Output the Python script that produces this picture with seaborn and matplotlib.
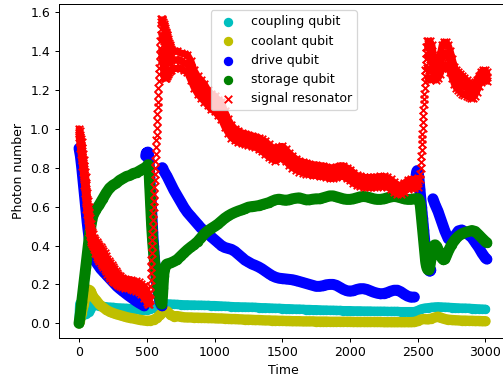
import numpy as np
import matplotlib
matplotlib.use("Agg")
import matplotlib.pyplot as plt
import seaborn as sns

# ---------------- coupling qubit ----------------
coupling_t = np.r_[0:100:5, 100:3001:25]
coupling_n = [
    0.02, 0.10, 0.04, 0.11, 0.04, 0.11, 0.05, 0.11, 0.05, 0.10,
    0.05, 0.10, 0.06, 0.10, 0.06, 0.10, 0.07, 0.10, 0.08, 0.095,
    0.095, 0.092, 0.09, 0.087, 0.085, 0.083, 0.082, 0.08,
    0.079, 0.078, 0.077, 0.076, 0.075, 0.073, 0.071, 0.07,
    0.069, 0.072, 0.08, 0.092, 0.10, 0.10, 0.10, 0.099,
    0.098, 0.097, 0.096, 0.095, 0.095, 0.094, 0.094, 0.093,
    0.093, 0.092, 0.092, 0.091, 0.091, 0.09, 0.089, 0.088,
    0.087, 0.086, 0.085, 0.085, 0.084, 0.084, 0.083, 0.083,
    0.082, 0.081, 0.08, 0.08, 0.079, 0.078, 0.077, 0.077,
    0.076, 0.075, 0.075, 0.074, 0.073, 0.073, 0.072, 0.071,
    0.071, 0.07, 0.07, 0.069, 0.068, 0.068, 0.067, 0.067,
    0.066, 0.066, 0.065, 0.065, 0.065, 0.064, 0.064, 0.064,
    0.063, 0.063, 0.063, 0.062, 0.062, 0.062, 0.062, 0.061,
    0.061, 0.061, 0.061, 0.06, 0.06, 0.06, 0.06, 0.06,
    0.066, 0.074, 0.078, 0.08, 0.082, 0.084, 0.085, 0.084,
    0.083, 0.082, 0.081, 0.08, 0.079, 0.078, 0.078, 0.077,
    0.076, 0.075, 0.074, 0.073, 0.072,
]

# ---------------- coolant qubit ----------------
coolant_t = np.r_[0:100:5, 100:3001:25]
coolant_n = [
    0.0, 0.01, 0.025, 0.04, 0.055, 0.07, 0.085, 0.10, 0.115, 0.13,
    0.14, 0.15, 0.16, 0.165, 0.17, 0.172, 0.17, 0.165, 0.158, 0.15,
    0.14, 0.12, 0.098, 0.083, 0.07, 0.06, 0.053, 0.047,
    0.042, 0.037, 0.032, 0.028, 0.025, 0.021, 0.018, 0.015,
    0.013, 0.014, 0.018, 0.028, 0.045, 0.06, 0.062, 0.045,
    0.035, 0.037, 0.034, 0.031, 0.03, 0.03, 0.029, 0.029,
    0.028, 0.028, 0.027, 0.027, 0.026, 0.025, 0.025, 0.024,
    0.023, 0.022, 0.022, 0.021, 0.02, 0.019, 0.019, 0.018,
    0.017, 0.017, 0.016, 0.015, 0.015, 0.014, 0.014, 0.013,
    0.013, 0.012, 0.012, 0.011, 0.011, 0.011, 0.01, 0.01,
    0.01, 0.01, 0.009, 0.009, 0.009, 0.009, 0.008, 0.008,
    0.008, 0.008, 0.008, 0.008, 0.008, 0.007, 0.007, 0.007,
    0.007, 0.007, 0.007, 0.007, 0.007, 0.007, 0.006, 0.006,
    0.006, 0.006, 0.006, 0.006, 0.006, 0.006, 0.006, 0.007,
    0.012, 0.02, 0.022, 0.02, 0.024, 0.03, 0.034, 0.028,
    0.022, 0.019, 0.017, 0.016, 0.015, 0.014, 0.014, 0.013,
    0.013, 0.012, 0.012, 0.011, 0.011,
]

# ---------------- drive qubit (pieces between the pulses) ----------------
drive_t1 = np.r_[0:101:5, 120:481:20]
drive_n1 = [
    0.90, 0.88, 0.86, 0.83, 0.80, 0.765, 0.73, 0.695, 0.66, 0.625,
    0.59, 0.555, 0.52, 0.49, 0.46, 0.435, 0.41, 0.39, 0.37, 0.355, 0.34,
    0.32, 0.30, 0.28, 0.265, 0.25, 0.235, 0.22, 0.205, 0.19, 0.178,
    0.167, 0.156, 0.145, 0.135, 0.125, 0.115, 0.106, 0.098, 0.09,
]
drive_t2 = np.r_[492, 496, 500:511:5, 514:581:3, 584:613:4]
drive_n2 = [
    0.86, 0.875, 0.87, 0.88, 0.88,
    0.86, 0.83, 0.79, 0.75, 0.71, 0.67, 0.63, 0.59, 0.55, 0.51, 0.47,
    0.43, 0.40, 0.37, 0.34, 0.31, 0.285, 0.26, 0.24, 0.22, 0.2, 0.185, 0.17,
    0.155, 0.14, 0.125, 0.115, 0.105, 0.098, 0.093, 0.09,
]
drive_t3 = np.r_[615, 620, 625:2476:25]
drive_n3 = [
    0.80, 0.795,
    0.785, 0.755, 0.72, 0.685, 0.655, 0.625, 0.595, 0.57,
    0.55, 0.53, 0.51, 0.49, 0.475, 0.46, 0.445, 0.43,
    0.415, 0.40, 0.39, 0.385, 0.38, 0.37, 0.355, 0.34,
    0.325, 0.315, 0.305, 0.298, 0.29, 0.28, 0.268, 0.256,
    0.245, 0.237, 0.232, 0.23, 0.228, 0.226, 0.224, 0.22,
    0.215, 0.21, 0.205, 0.2, 0.195, 0.19, 0.19, 0.193,
    0.198, 0.2, 0.2, 0.195, 0.185, 0.175, 0.168, 0.165,
    0.168, 0.174, 0.178, 0.178, 0.174, 0.167, 0.16, 0.155,
    0.152, 0.153, 0.158, 0.165, 0.17, 0.17, 0.162, 0.15,
    0.14, 0.134, 0.135,
]
drive_t4 = np.r_[2488:2597:4]
drive_n4 = [
    0.76, 0.78, 0.785, 0.78, 0.77, 0.75, 0.72, 0.69, 0.66, 0.63,
    0.60, 0.57, 0.54, 0.51, 0.48, 0.45, 0.42, 0.39, 0.365, 0.34,
    0.32, 0.30, 0.285, 0.275, 0.27, 0.268, 0.27, 0.275,
]
drive_t5 = np.r_[2612, 2620, 2625:3001:25, 3010]
drive_n5 = [
    0.64, 0.625,
    0.615, 0.575, 0.525, 0.475, 0.435, 0.425, 0.45, 0.475,
    0.48, 0.47, 0.455, 0.44, 0.415, 0.39, 0.36, 0.335,
    0.33,
]

# ---------------- storage qubit ----------------
storage_t1 = np.r_[0:101:5, 125:501:25]
storage_n1 = [
    0.0, 0.025, 0.05, 0.08, 0.11, 0.14, 0.17, 0.2, 0.23, 0.26, 0.29,
    0.32, 0.35, 0.38, 0.41, 0.44, 0.47, 0.49, 0.51, 0.53, 0.55,
    0.585, 0.61, 0.64, 0.67, 0.695, 0.71, 0.72, 0.735,
    0.745, 0.755, 0.76, 0.77, 0.775, 0.785, 0.795, 0.805,
]
storage_t2 = np.r_[504, 508, 512, 514:551:2, 553:611:3, 613:629:3, 632:641:4, 645]
storage_n2 = [
    0.81, 0.815, 0.815,
    0.81, 0.79, 0.76, 0.73, 0.70, 0.665, 0.635, 0.605, 0.575, 0.55,
    0.525, 0.50, 0.475, 0.455, 0.435, 0.415, 0.395, 0.38, 0.365,
    0.345, 0.325, 0.305, 0.285, 0.265, 0.25, 0.235, 0.22, 0.205, 0.19,
    0.175, 0.162, 0.15, 0.14, 0.13, 0.12, 0.112, 0.105, 0.10, 0.10,
    0.11, 0.14, 0.18, 0.215, 0.245, 0.265,
    0.28, 0.29, 0.297, 0.303,
]
storage_t3 = np.r_[650:2501:25]
storage_n3 = [
    0.305, 0.31, 0.318, 0.328, 0.345, 0.362, 0.378, 0.392,
    0.405, 0.42, 0.44, 0.46, 0.475, 0.487, 0.498, 0.51,
    0.525, 0.54, 0.552, 0.562, 0.57, 0.577, 0.583, 0.59,
    0.597, 0.60, 0.602, 0.605, 0.61, 0.615, 0.62, 0.628,
    0.635, 0.638, 0.635, 0.632, 0.635, 0.64, 0.643, 0.645,
    0.64, 0.635, 0.635, 0.638, 0.64, 0.64, 0.645, 0.65,
    0.655, 0.655, 0.65, 0.645, 0.64, 0.637, 0.637, 0.64,
    0.645, 0.65, 0.652, 0.65, 0.645, 0.64, 0.637, 0.637,
    0.64, 0.645, 0.65, 0.652, 0.65, 0.645, 0.64, 0.637,
    0.637, 0.64, 0.642,
]
storage_t4 = np.r_[2505, 2510, 2514, 2516:2561:2, 2564:2601:4, 2605:2631:5,
                   2640:2711:10, 2725, 2750:3001:25, 3010]
storage_n4 = [
    0.64, 0.635, 0.625,
    0.62, 0.61, 0.598, 0.585, 0.57, 0.555, 0.54, 0.525, 0.51, 0.495,
    0.48, 0.465, 0.45, 0.435, 0.42, 0.405, 0.39, 0.375, 0.36, 0.345,
    0.332, 0.32, 0.31,
    0.295, 0.285, 0.278, 0.275, 0.275, 0.28, 0.29, 0.305, 0.325, 0.345,
    0.365, 0.38, 0.392, 0.40, 0.403, 0.403,
    0.395, 0.38, 0.36, 0.345, 0.333, 0.327, 0.33, 0.345,
    0.37,
    0.405, 0.43, 0.448, 0.46, 0.467, 0.472, 0.477, 0.472, 0.455, 0.437, 0.42,
    0.415,
]

# ---------------- signal resonator ----------------
# noisy band before the first pulse: upper, middle and lower traces
signal_ta = np.r_[0:101:5, 110:301:10, 320:501:20, 510, 520]
signal_hi_a = [
    1.00, 0.99, 0.97, 0.95, 0.93, 0.90, 0.87, 0.84, 0.81, 0.78, 0.75,
    0.71, 0.67, 0.63, 0.60, 0.57, 0.54, 0.51, 0.49, 0.47, 0.46,
    0.44, 0.43, 0.42, 0.41, 0.40, 0.39, 0.38, 0.37, 0.36, 0.345,
    0.33, 0.32, 0.31, 0.30, 0.29, 0.28, 0.27, 0.26, 0.25, 0.245,
    0.235, 0.23, 0.225, 0.225, 0.22, 0.215, 0.21, 0.20, 0.19, 0.17,
    0.15, 0.13,
]
signal_mid_a = [
    0.98, 0.96, 0.935, 0.91, 0.885, 0.855, 0.825, 0.795, 0.76, 0.725, 0.69,
    0.65, 0.615, 0.58, 0.55, 0.52, 0.495, 0.47, 0.455, 0.44, 0.43,
    0.41, 0.395, 0.38, 0.37, 0.36, 0.35, 0.34, 0.33, 0.32, 0.31,
    0.295, 0.285, 0.275, 0.265, 0.255, 0.245, 0.237, 0.23, 0.222, 0.218,
    0.21, 0.205, 0.2, 0.2, 0.195, 0.19, 0.185, 0.175, 0.16, 0.14,
    0.125, 0.115,
]
signal_lo_a = [
    0.96, 0.93, 0.90, 0.87, 0.84, 0.81, 0.78, 0.75, 0.71, 0.67, 0.63,
    0.59, 0.56, 0.53, 0.50, 0.47, 0.45, 0.43, 0.42, 0.41, 0.40,
    0.38, 0.36, 0.34, 0.33, 0.32, 0.31, 0.30, 0.29, 0.28, 0.27,
    0.255, 0.245, 0.235, 0.225, 0.215, 0.21, 0.205, 0.20, 0.195, 0.19,
    0.185, 0.18, 0.18, 0.175, 0.17, 0.165, 0.16, 0.15, 0.13, 0.11,
    0.10, 0.10,
]
# first pulse
rise1_t = np.r_[522:611:2]
rise1_n = [
    0.12, 0.155, 0.19, 0.225, 0.26, 0.29, 0.325, 0.36, 0.395, 0.43,
    0.46, 0.495, 0.53, 0.565, 0.60, 0.63, 0.665, 0.70, 0.735, 0.77,
    0.80, 0.835, 0.87, 0.905, 0.94, 0.97, 1.005, 1.04, 1.075, 1.11,
    1.14, 1.175, 1.21, 1.245, 1.28, 1.31, 1.345, 1.38, 1.415, 1.45,
    1.48, 1.515, 1.55, 1.565, 1.565,
]
peak_t = np.r_[612:677:4]
peak_a = [1.56, 1.56, 1.55, 1.54, 1.53, 1.52, 1.51, 1.50, 1.49, 1.48,
          1.47, 1.46, 1.45, 1.44, 1.43, 1.42, 1.41]
peak_b = [1.48, 1.47, 1.46, 1.46, 1.45, 1.45, 1.44, 1.44, 1.43, 1.42,
          1.41, 1.40, 1.39, 1.39, 1.38, 1.38, 1.37]
peak_c = [1.40, 1.39, 1.38, 1.37, 1.36, 1.36, 1.36, 1.36, 1.35, 1.35,
          1.35, 1.34, 1.34, 1.34, 1.34, 1.34, 1.34]
peak_d = [1.38, 1.36, 1.33, 1.30, 1.27, 1.26, 1.26, 1.26, 1.27, 1.27,
          1.28, 1.28, 1.29, 1.29, 1.30, 1.30, 1.30]
# slow decay between the pulses
signal_tc = np.r_[625:2501:25]
signal_hi_c = [
    1.53, 1.48, 1.42, 1.40, 1.40, 1.39, 1.385, 1.38,
    1.35, 1.30, 1.27, 1.25, 1.23, 1.20, 1.18, 1.17,
    1.15, 1.14, 1.09, 1.05, 1.02, 1.00, 0.99, 0.98,
    0.975, 0.97, 0.965, 0.96, 0.955, 0.945, 0.935, 0.92,
    0.905, 0.895, 0.905, 0.91, 0.895, 0.875, 0.86, 0.845,
    0.835, 0.83, 0.825, 0.82, 0.815, 0.815, 0.81, 0.81,
    0.805, 0.80, 0.80, 0.805, 0.81, 0.81, 0.80, 0.79,
    0.775, 0.76, 0.755, 0.75, 0.75, 0.75, 0.75, 0.752,
    0.755, 0.755, 0.75, 0.74, 0.725, 0.71, 0.71, 0.72,
    0.735, 0.74, 0.74, 0.745,
]
signal_mid_c = [
    1.40, 1.38, 1.36, 1.355, 1.355, 1.35, 1.34, 1.335,
    1.30, 1.255, 1.225, 1.205, 1.185, 1.16, 1.14, 1.13,
    1.11, 1.095, 1.05, 1.015, 0.988, 0.97, 0.96, 0.953,
    0.948, 0.943, 0.938, 0.933, 0.925, 0.915, 0.903, 0.888,
    0.875, 0.865, 0.875, 0.88, 0.865, 0.845, 0.83, 0.818,
    0.808, 0.803, 0.798, 0.793, 0.788, 0.788, 0.783, 0.783,
    0.778, 0.773, 0.773, 0.778, 0.783, 0.783, 0.773, 0.763,
    0.748, 0.735, 0.73, 0.725, 0.725, 0.725, 0.725, 0.727,
    0.73, 0.73, 0.725, 0.715, 0.70, 0.688, 0.688, 0.698,
    0.712, 0.718, 0.718, 0.722,
]
signal_lo_c = [
    1.27, 1.28, 1.30, 1.31, 1.31, 1.31, 1.30, 1.29,
    1.25, 1.21, 1.18, 1.16, 1.14, 1.12, 1.10, 1.09,
    1.07, 1.05, 1.01, 0.98, 0.955, 0.94, 0.93, 0.925,
    0.92, 0.915, 0.91, 0.905, 0.895, 0.885, 0.87, 0.855,
    0.845, 0.835, 0.845, 0.85, 0.835, 0.815, 0.80, 0.79,
    0.78, 0.775, 0.77, 0.765, 0.76, 0.76, 0.755, 0.755,
    0.75, 0.745, 0.745, 0.75, 0.755, 0.755, 0.745, 0.735,
    0.72, 0.71, 0.705, 0.70, 0.70, 0.70, 0.70, 0.702,
    0.705, 0.705, 0.70, 0.69, 0.675, 0.665, 0.665, 0.675,
    0.69, 0.695, 0.695, 0.70,
]
# second pulse
rise2_t = np.r_[2518:2567:2]
rise2_n = [
    0.74, 0.77, 0.80, 0.83, 0.86, 0.89, 0.92, 0.945, 0.975, 1.005,
    1.035, 1.065, 1.095, 1.125, 1.155, 1.18, 1.21, 1.24, 1.27, 1.30,
    1.33, 1.36, 1.39, 1.42, 1.45,
]
crest_t = [2572, 2580, 2588, 2596, 2604, 2612]
crest_up = [1.42, 1.42, 1.41, 1.40, 1.38, 1.34]
crest_dn = [1.31, 1.30, 1.30, 1.30, 1.30, 1.29]
signal_te = np.r_[2575:3011:15]
signal_hi_e = [
    1.45, 1.45, 1.43, 1.36, 1.33, 1.34, 1.38, 1.43, 1.445, 1.445,
    1.43, 1.40, 1.36, 1.32, 1.30, 1.29, 1.28, 1.27, 1.26, 1.25,
    1.24, 1.23, 1.225, 1.23, 1.25, 1.27, 1.29, 1.30, 1.30, 1.29,
]
signal_mid_e = [
    1.37, 1.36, 1.35, 1.31, 1.29, 1.30, 1.33, 1.37, 1.39, 1.39,
    1.37, 1.345, 1.31, 1.275, 1.255, 1.245, 1.235, 1.225, 1.218, 1.21,
    1.203, 1.195, 1.193, 1.2, 1.22, 1.245, 1.265, 1.275, 1.275, 1.268,
]
signal_lo_e = [
    1.26, 1.25, 1.26, 1.26, 1.25, 1.26, 1.28, 1.31, 1.33, 1.33,
    1.31, 1.29, 1.26, 1.23, 1.21, 1.20, 1.19, 1.18, 1.175, 1.17,
    1.165, 1.16, 1.16, 1.17, 1.19, 1.22, 1.24, 1.25, 1.25, 1.245,
]

drive_pieces = [(drive_t1, drive_n1), (drive_t2, drive_n2), (drive_t3, drive_n3),
                (drive_t4, drive_n4), (drive_t5, drive_n5)]
storage_t = np.concatenate([storage_t1, storage_t2, storage_t3, storage_t4])
storage_n = np.concatenate([storage_n1, storage_n2, storage_n3, storage_n4])
signal_traces = [
    (signal_ta, signal_hi_a), (signal_ta, signal_mid_a), (signal_ta, signal_lo_a),
    (peak_t, peak_a), (peak_t, peak_b), (peak_t, peak_c), (peak_t, peak_d),
    (signal_tc, signal_hi_c), (signal_tc, signal_mid_c), (signal_tc, signal_lo_c),
    (crest_t, crest_up), (crest_t, crest_dn),
    (signal_te, signal_hi_e), (signal_te, signal_mid_e), (signal_te, signal_lo_e),
]
signal_t = np.concatenate([np.asarray(t) for t, _ in signal_traces] + [rise1_t, rise2_t])
signal_n = np.concatenate([np.asarray(n) for _, n in signal_traces] + [rise1_n, rise2_n])

DPI = 90
fig = plt.figure(figsize=(504 / DPI, 377 / DPI), dpi=DPI)
ax = fig.add_axes([0.1165, 0.1042, 0.893, 0.885])


def trace(t, n, color, z, width):
    """Densely sampled record drawn as a continuous run of marker-wide ink."""
    sns.lineplot(x=np.asarray(t), y=np.asarray(n), color=color, linewidth=width,
                 sort=False, estimator=None, legend=False, ax=ax, zorder=z,
                 solid_capstyle="round", solid_joinstyle="round")


def dots(t, n, color, label, z):
    sns.scatterplot(x=np.asarray(t), y=np.asarray(n), color=color, s=36,
                    linewidth=1.5, edgecolor="face", label=label, ax=ax, zorder=z)


dots(coupling_t, coupling_n, "c", "coupling qubit", 1)
trace(coupling_t, coupling_n, "c", 1, 7.5)
dots(coolant_t, coolant_n, "y", "coolant qubit", 2)
trace(coolant_t, coolant_n, "y", 2, 8.3)
dots(np.concatenate([p[0] for p in drive_pieces]),
     np.concatenate([p[1] for p in drive_pieces]), "b", "drive qubit", 3)
for t, n in drive_pieces:
    trace(t, n, "b", 3, 8.8)
dots(storage_t, storage_n, "g", "storage qubit", 4)
trace(storage_t, storage_n, "g", 4, 8.8)
for t, n in signal_traces:
    trace(t, n, "r", 5, 5.5)
sns.scatterplot(x=signal_t, y=signal_n, color="r", marker="x", s=36,
                linewidth=1.5, label="signal resonator", ax=ax, zorder=5)

ax.set_xlim(-150, 3172)
ax.set_ylim(-0.074, 1.641)
ax.set_xticks([0, 500, 1000, 1500, 2000, 2500, 3000])
ax.set_yticks(np.arange(0, 1.61, 0.2))
ax.set_xlabel("Time")
ax.set_ylabel("Photon number")
ax.legend(loc="upper center")

fig.savefig("out.png", dpi=DPI)
